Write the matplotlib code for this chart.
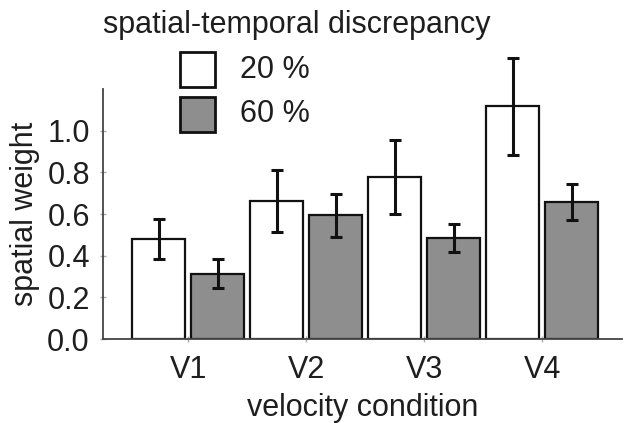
import matplotlib
matplotlib.use("Agg")
import matplotlib.pyplot as plt
from matplotlib.patches import Rectangle
import numpy as np

plt.rcParams['font.family'] = ['Liberation Sans', 'DejaVu Sans']

categories = ["V1", "V2", "V3", "V4"]
series_names = ["20 %", "60 %"]
values_20 = [0.48, 0.663, 0.777, 1.117]
errors_20 = [0.094, 0.148, 0.176, 0.233]
values_60 = [0.313, 0.593, 0.484, 0.658]
errors_60 = [0.070, 0.104, 0.066, 0.087]

W, H = 625, 423
fig = plt.figure(figsize=(W / 100, H / 100), dpi=100)
ax = fig.add_axes([103 / W, 84 / H, (622 - 103) / W, (339 - 89) / H])

FS = 22
TXT = '#1e1e1e'
GRAY = '#8e8e8e'

x = np.arange(len(categories))
bw = 0.45
off = 0.25
ax.bar(x - off, values_20, bw, color='white', edgecolor='#111111', linewidth=1.6, zorder=2)
ax.bar(x + off, values_60, bw, color=GRAY, edgecolor='#111111', linewidth=1.6, zorder=2)
for xs, vals, errs in ((x - off, values_20, errors_20), (x + off, values_60, errors_60)):
    eb = ax.errorbar(xs, vals, yerr=errs, fmt='none', ecolor='#111111',
                     elinewidth=2.2, capsize=4.3, capthick=2.2, zorder=3)
    for art in eb.get_children():
        art.set_clip_on(False)

ax.set_xlim(-0.723, 3.675)
ax.set_ylim(0, 1.2)
ax.set_yticks([0.0, 0.2, 0.4, 0.6, 0.8, 1.0])
ax.set_yticklabels(["0.0", "0.2", "0.4", "0.6", "0.8", "1.0"])
ax.set_xticks(x)
ax.set_xticklabels(categories)

for s in ['top', 'right']:
    ax.spines[s].set_visible(False)
for s in ['left', 'bottom']:
    ax.spines[s].set_color('#444444')
    ax.spines[s].set_linewidth(1.3)

ax.tick_params(axis='both', direction='inout', length=5, width=1.0, color='#aaaaaa',
               labelsize=FS, labelcolor=TXT)
ax.tick_params(axis='x', pad=9)
ax.tick_params(axis='y', pad=7)

ax.set_ylabel("spatial weight", fontsize=FS, color=TXT, labelpad=5)
ax.set_xlabel("velocity condition", fontsize=FS, color=TXT, labelpad=6)

fig.text(103 / W, 1 - 33 / H, "spatial-temporal discrepancy", fontsize=FS,
         color=TXT, ha='left', va='baseline')

# legend
leg_colors = ['white', GRAY]
leg_top = [52, 97]
for name, c, t in zip(series_names, leg_colors, leg_top):
    fig.add_artist(Rectangle((180 / W, 1 - (t + 35) / H), 35 / W, 35 / H,
                             transform=fig.transFigure, facecolor=c,
                             edgecolor='#111111', linewidth=2.0))
    fig.text(240 / W, 1 - (t + 17.5) / H, name, fontsize=FS, color=TXT,
             ha='left', va='center')

fig.savefig("out.png", dpi=100)
